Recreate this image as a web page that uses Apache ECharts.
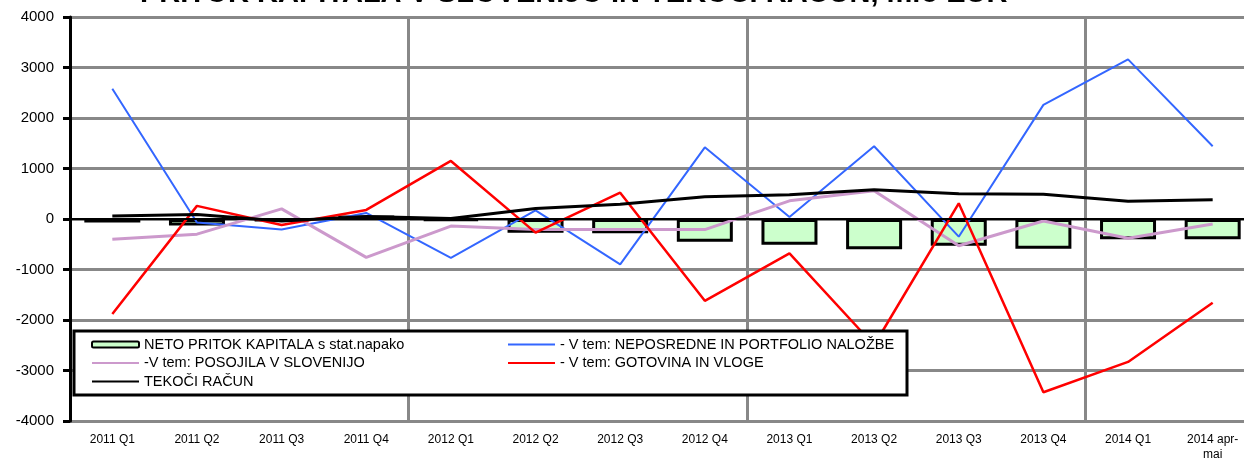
<!DOCTYPE html>
<html>
<head>
<meta charset="utf-8">
<script src="https://cdn.jsdelivr.net/npm/echarts@6/dist/echarts.min.js"></script>
<style>
  html, body { margin: 0; padding: 0; background: #fff; }
  #chart { width: 1244px; height: 459px; }
</style>
</head>
<body>
<div id="chart"></div>
<script>
// kvartali
const categories = ['2011 Q1', '2011 Q2', '2011 Q3', '2011 Q4', '2012 Q1', '2012 Q2', '2012 Q3',
    '2012 Q4', '2013 Q1', '2013 Q2', '2013 Q3', '2013 Q4', '2014 Q1', '2014 apr-\nmai'];

// mio EUR
const netoPritok = [-70, -130, -40, 70, -30, -270, -280, -450, -510, -600, -530, -590, -400, -400];
const neposredne = [2580, -70, -210, 120, -770, 170, -900, 1420, 40, 1440, -350, 2260, 3160, 1440];
const posojila = [-400, -300, 200, -760, -140, -210, -210, -210, 360, 560, -530, -40, -380, -100];
const gotovina = [-1880, 260, -120, 180, 1150, -270, 520, -1620, -680, -2500, 310, -3430, -2830, -1660];
const tekociRacun = [60, 90, -40, 50, 10, 210, 290, 440, 480, 580, 500, 490, 350, 380];

const yTicks = [-4000, 4000, 1000]; // min, max, korak

const names = {
    neto: 'NETO PRITOK KAPITALA s stat.napako',
    nep: '- V tem: NEPOSREDNE IN PORTFOLIO NALOŽBE',
    pos: '-V tem: POSOJILA V SLOVENIJO',
    got: '- V tem: GOTOVINA IN VLOGE',
    tek: 'TEKOČI RAČUN'
};

const myChart = echarts.init(document.getElementById('chart'));
const font = 'Arial, "Liberation Sans", sans-serif';

const legendText = { fontFamily: font, fontSize: 14.5, color: '#000' };
// brez pik na ikonah črt v legendi
const lineItem = name => ({ name: name, itemStyle: { opacity: 0 } });

const option = {
    animation: false,
    title: {
        text: 'PRITOK KAPITALA V SLOVENIJO IN TEKOČI RAČUN, mio EUR',
        left: 135,
        top: -26,
        textStyle: { fontFamily: font, fontSize: 29, fontWeight: 'bold', color: '#000' }
    },
    // graf sega čez desni rob okna
    grid: { left: 70, width: 1185, top: 17, bottom: 38, outerBoundsMode: 'none', containLabel: false },
    graphic: [{
        type: 'rect',
        z: 100,
        shape: { x: 74, y: 331, width: 833, height: 64 },
        style: { fill: '#fff', stroke: '#000', lineWidth: 3 }
    }],
    legend: [{
        z: 110,
        left: 86, top: 332, orient: 'vertical',
        itemWidth: 47, itemHeight: 6, itemGap: 3.5,
        data: [names.neto, lineItem(names.pos), lineItem(names.tek)],
        textStyle: legendText
    }, {
        z: 110,
        left: 502, top: 332, orient: 'vertical',
        itemWidth: 47, itemHeight: 6, itemGap: 3.5,
        data: [lineItem(names.nep), lineItem(names.got)],
        textStyle: legendText
    }],
    xAxis: {
        type: 'category',
        data: categories,
        axisLine: { show: false },
        axisTick: { show: false },
        axisLabel: { interval: 0, margin: 11, fontFamily: font, fontSize: 12, color: '#000', lineHeight: 15 },
        splitLine: {
            show: true,
            interval: idx => idx % 4 === 0,
            lineStyle: { color: '#888', width: 3 }
        }
    },
    yAxis: {
        type: 'value',
        min: yTicks[0],
        max: yTicks[1],
        interval: yTicks[2],
        axisLine: { show: true, lineStyle: { color: '#000', width: 3 } },
        axisTick: { show: true, length: 7, lineStyle: { color: '#000', width: 3 } },
        axisLabel: { margin: 16, fontFamily: font, fontSize: 15, color: '#000', formatter: v => String(v) },
        splitLine: { lineStyle: { color: '#888', width: 3 } }
    },
    series: [{
        name: names.neto,
        type: 'bar',
        data: netoPritok,
        barWidth: 56,
        itemStyle: { color: '#ccffcc', borderColor: '#000', borderWidth: 3 },
        markLine: {
            silent: true,
            symbol: 'none',
            label: { show: false },
            lineStyle: { color: '#000', width: 2, type: 'solid' },
            data: [{ yAxis: 0 }]
        }
    }, {
        name: names.nep,
        type: 'line',
        data: neposredne,
        symbol: 'none',
        lineStyle: { color: '#3366ff', width: 2 },
        itemStyle: { color: '#3366ff' }
    }, {
        name: names.pos,
        type: 'line',
        data: posojila,
        symbol: 'none',
        lineStyle: { color: '#cc99cc', width: 3 },
        itemStyle: { color: '#cc99cc' }
    }, {
        name: names.got,
        type: 'line',
        data: gotovina,
        symbol: 'none',
        lineStyle: { color: '#ff0000', width: 2.5 },
        itemStyle: { color: '#ff0000' }
    }, {
        name: names.tek,
        type: 'line',
        data: tekociRacun,
        symbol: 'none',
        lineStyle: { color: '#000', width: 3 },
        itemStyle: { color: '#000' }
    }]
};

myChart.setOption(option);
</script>
</body>
</html>
